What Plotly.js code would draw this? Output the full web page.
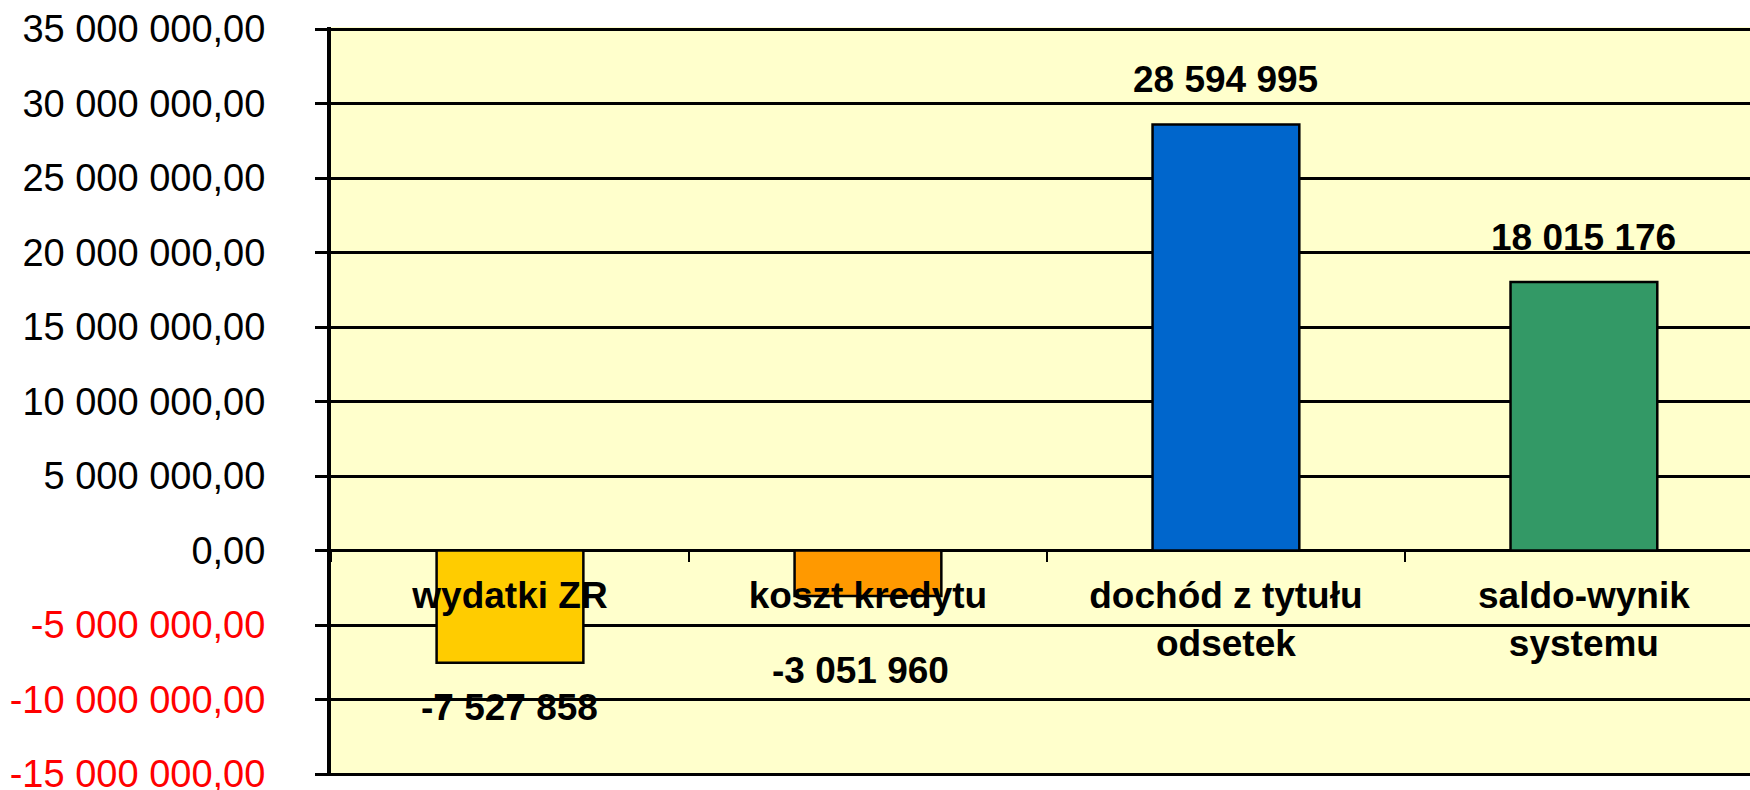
<!DOCTYPE html>
<html>
<head>
<meta charset="utf-8">
<script src="https://cdn.plot.ly/plotly-3.0.1.min.js"></script>
<style>
  html, body { margin: 0; padding: 0; background: #ffffff; overflow: hidden; }
  #chart { width: 1750px; height: 790px; }
</style>
</head>
<body>
<div id="chart"></div>
<script>
// ---- data ----
const categories = ["wydatki ZR", "koszt kredytu", "dochód z tytułu<br>odsetek", "saldo-wynik<br>systemu"];
const values = [-7527858, -3051960, 28594995, 18015176];
const barColors = ["#FFCC00", "#FF9900", "#0066CC", "#339966"];
const yTickVals = [35000000, 30000000, 25000000, 20000000, 15000000, 10000000, 5000000, 0, -5000000, -10000000, -15000000];
const yTickLabels = ["35 000 000,00", "30 000 000,00", "25 000 000,00", "20 000 000,00", "15 000 000,00",
                     "10 000 000,00", "5 000 000,00", "0,00", "-5 000 000,00", "-10 000 000,00", "-15 000 000,00"];
// label offsets (px) of the value labels from the bar end
const labelShiftY = [-45, -75, 45, 45];
const labelShiftX = [0, -7, 0, 0];

// ---- helpers ----
function fmtInt(v) {
  const s = Math.abs(Math.round(v)).toString().replace(/\B(?=(\d{3})+(?!\d))/g, " ");
  return (v < 0 ? "-" : "") + s;
}
const FONT = "Liberation Sans, Arial, sans-serif";

const tickText = yTickLabels.map((t, i) =>
  yTickVals[i] < 0 ? '<span style="color:#FF0000">' + t + '</span>' : t);

// axis range: a hair wider than the first/last tick so the edge grid lines are drawn
const yMin = Math.min(...yTickVals), yMax = Math.max(...yTickVals);
const yPad = (yMax - yMin) / 745 * 2;   // about 2 px
const yRange = [yMin - yPad, yMax + yPad];
const zeroPos = (0 - yRange[0]) / (yRange[1] - yRange[0]);

const trace = {
  type: "bar",
  x: categories,
  y: values,
  width: 0.41,
  marker: { color: barColors, line: { color: "#000000", width: 2.5 } },
  hoverinfo: "none"
};

const annotations = values.map((v, i) => ({
  x: categories[i],
  y: v,
  xref: "x",
  yref: "y",
  text: fmtInt(v),
  showarrow: false,
  xanchor: "center",
  yanchor: "middle",
  xshift: labelShiftX[i],
  yshift: labelShiftY[i],
  font: { family: FONT, size: 37, color: "#000000", weight: "bold" }
}));

const layout = {
  width: 1750,
  height: 790,
  margin: { l: 331, r: 0, t: 27, b: 14, pad: 0 },
  paper_bgcolor: "#ffffff",
  plot_bgcolor: "#FFFFCC",
  showlegend: false,
  xaxis: {
    type: "category",
    range: [-0.5, 3.464],
    anchor: "free",
    position: zeroPos,
    showline: false,
    showgrid: false,
    zeroline: false,
    ticks: "outside",
    tickson: "boundaries",
    ticklen: 10,
    tickwidth: 2,
    tickcolor: "#000000",
    ticklabelstandoff: 19,
    tickfont: { family: FONT, size: 37, color: "#000000", weight: "bold" },
    fixedrange: true
  },
  yaxis: {
    range: yRange,
    tickvals: yTickVals,
    ticktext: tickText,
    showline: true,
    linecolor: "#000000",
    linewidth: 4,
    showgrid: true,
    gridcolor: "#000000",
    gridwidth: 3,
    zeroline: true,
    zerolinecolor: "#000000",
    zerolinewidth: 3,
    ticks: "outside",
    ticklen: 12,
    tickwidth: 3,
    tickcolor: "#000000",
    ticklabelstandoff: 42,
    ticklabeloverflow: "allow",
    tickfont: { family: FONT, size: 38, color: "#000000" },
    fixedrange: true
  },
  annotations: annotations
};

Plotly.newPlot("chart", [trace], layout, { staticPlot: true, displayModeBar: false });
</script>
</body>
</html>
